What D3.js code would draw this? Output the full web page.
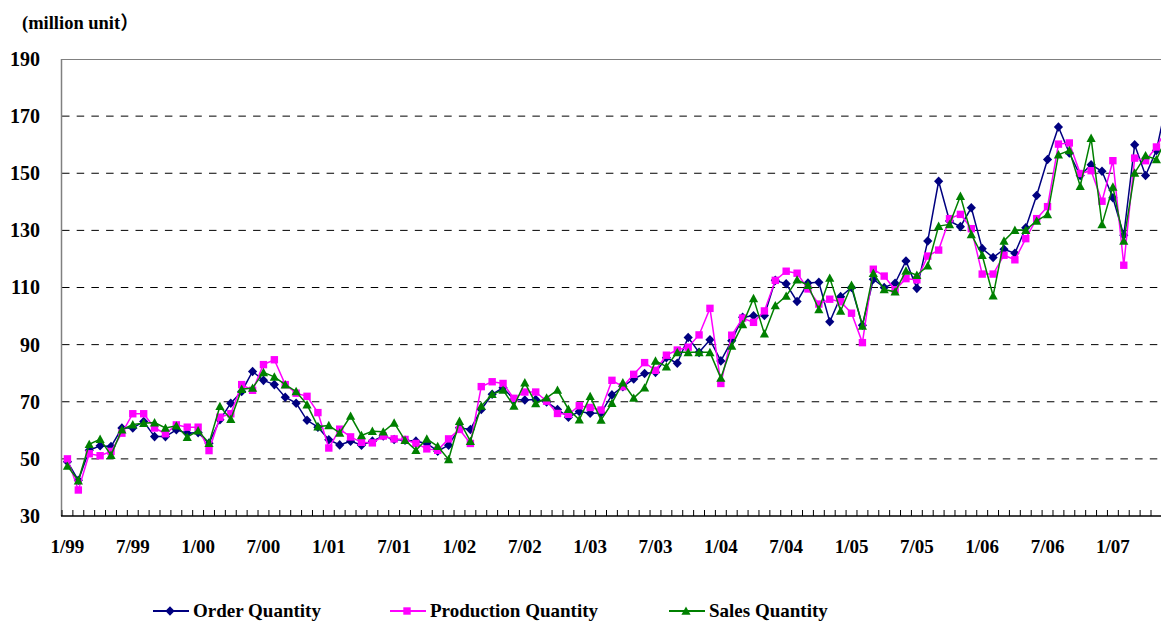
<!DOCTYPE html>
<html>
<head>
<meta charset="utf-8">
<script src="https://cdn.jsdelivr.net/npm/d3@7"></script>
<style>
  body { margin: 0; background: #fff; }
  text { font-family: "Liberation Serif", "Times New Roman", "Noto Sans CJK JP", serif; font-weight: bold; fill: #000; }
</style>
</head>
<body>
<div id="chart"></div>
<script>
// months from 1/99, one category per month
const startYear = 1999;
const monthCount = 102;
const months = d3.range(monthCount).map(i =>
  `${i % 12 + 1}/${String((startYear + Math.floor(i / 12)) % 100).padStart(2, "0")}`);

const tickLabels = ["1/99", "7/99", "1/00", "7/00", "1/01", "7/01", "1/02", "7/02", "1/03",
  "7/03", "1/04", "7/04", "1/05", "7/05", "1/06", "7/06", "1/07"];
const yTicks = [30, 50, 70, 90, 110, 130, 150, 170, 190];
const gridTicks = [50, 70, 90, 110, 130, 150, 170];

const orderQty = [
  49, 42.5, 53, 54.6, 54.3, 60.8, 60.8, 63.1, 57.8, 57.8, 60.2, 59,
  59.2, 55.5, 63.7, 69.5, 73.6, 80.6, 77.5, 76, 71.6, 69.5, 63.5, 61.1,
  56.7, 54.9, 56.2, 54.8, 56.2, 58, 56.8, 56.5, 56.2, 55.4, 52.7, 54.8,
  60.9, 60.3, 67.3, 72.6, 74.9, 70.8, 70.6, 70.8, 69.9, 67.3, 64.6, 66.6,
  66, 66.1, 72.4, 75.3, 78, 79.9, 80.3, 85.4, 83.5, 92.5, 87.3, 91.7,
  84.3, 91.4, 99.6, 100.1, 100.2, 112.5, 111.3, 105.1, 111.6, 111.8, 98, 106.8,
  110, 96.8, 112.9, 110, 111.5, 119.3, 109.7, 126.3, 147.2, 133.3, 131.3, 137.9,
  123.6, 120.5, 123.4, 122, 130.9, 142.2, 154.8, 166.2, 157.1, 149.2, 153, 150.7,
  141.4, 128.3, 160, 149.2, 158, 176
];
const productionQty = [
  50, 39.1, 51.8, 51.1, 52.6, 59, 65.8, 65.8, 60.8, 58.8, 61.9, 61.1,
  61.1, 52.9, 64.6, 65.8, 76, 74, 83, 84.7, 76, 73, 71.9, 66.2,
  53.8, 60.4, 57.7, 55.8, 55.6, 58, 57, 56.8, 55.4, 53.5, 53, 57,
  60.3, 55.4, 75.3, 77, 76.4, 71.2, 73.4, 73.4, 70.2, 65.9, 65.6, 68.6,
  68, 67.1, 77.5, 75.3, 79.6, 83.7, 81, 86.3, 88.1, 89.1, 93.4, 102.7,
  76.4, 93.3, 99.3, 97.8, 101.8, 112.5, 115.7, 115, 109.5, 104.2, 105.9, 105,
  101, 90.7, 116.4, 114, 109.2, 113.1, 112.7, 121, 123.1, 134.1, 135.6, 130.6,
  114.7, 114.7, 121.3, 119.7, 127.1, 134.1, 138.3, 160.2, 160.6, 149.9, 150.9, 140.2,
  154.4, 117.8, 155.3, 154.4, 159.2, 166
];
const salesQty = [
  47.5, 42.4, 55.1, 56.9, 51.3, 60.2, 62, 62.5, 62.7, 60.8, 61.6, 57.6,
  59.9, 55.5, 68.4, 63.9, 74.4, 74.8, 80.3, 78.7, 76, 73.6, 69, 61.3,
  61.7, 59.1, 65, 58.2, 59.7, 59.5, 62.6, 56.5, 53, 57, 54.4, 49.8,
  63.2, 56.2, 68.5, 72.6, 74.1, 68.5, 76.7, 69.4, 71.4, 74.1, 67.4, 63.7,
  71.9, 63.6, 69.5, 76.7, 71.3, 74.9, 84.3, 82.3, 87.3, 87.3, 87.3, 87.3,
  78.3, 89.5, 97.1, 106.2, 93.8, 103.7, 107, 112.7, 110.8, 102.3, 113.3, 101.8,
  110.8, 96.5, 115, 109.3, 108.5, 115.8, 114.3, 117.6, 131.5, 132.1, 142, 128.6,
  121.3, 107.1, 126.3, 130.1, 130.1, 133.3, 135.6, 156.5, 158, 145.5, 162.3, 132.1,
  145.2, 126.3, 150.1, 156.2, 154.8, 163
];

const series = [
  { name: "Order Quantity", values: orderQty, color: "#000080", marker: "diamond", legendX: 153 },
  { name: "Production Quantity", values: productionQty, color: "#FF00FF", marker: "square", legendX: 390 },
  { name: "Sales Quantity", values: salesQty, color: "#008000", marker: "triangle", legendX: 669 }
];

const width = 1161;
const height = 621;
const plot = { left: 62, top: 59, bottom: 516, step: 10.89 };

const svg = d3.select("#chart")
  .append("svg")
  .attr("width", width)
  .attr("height", height);

const x = d3.scaleBand()
  .domain(months)
  .range([plot.left, plot.left + months.length * plot.step]);

const y = d3.scaleLinear()
  .domain([30, 190])
  .range([plot.bottom, plot.top]);

const cx = m => x(m) + x.bandwidth() / 2;

function markerPath(type) {
  if (type === "diamond") return "M0,-4.8L4.6,0L0,4.8L-4.6,0Z";
  if (type === "square") return "M-3.7,-3.7H3.7V3.7H-3.7Z";
  return "M0,-4.6L4.6,3.8H-4.6Z";
}

// dashed gridlines
svg.append("g")
  .selectAll("line")
  .data(gridTicks)
  .join("line")
  .attr("x1", plot.left)
  .attr("x2", width)
  .attr("y1", d => y(d))
  .attr("y2", d => y(d))
  .attr("stroke", "#000")
  .attr("stroke-width", 1)
  .attr("stroke-dasharray", "7.5,7.2");

// top border and left axis
svg.append("line")
  .attr("x1", plot.left).attr("x2", width)
  .attr("y1", y(190) + 0.5).attr("y2", y(190) + 0.5)
  .attr("stroke", "#808080");
svg.append("line")
  .attr("x1", plot.left - 0.5).attr("x2", plot.left - 0.5)
  .attr("y1", y(190)).attr("y2", y(30))
  .attr("stroke", "#808080")
  .attr("stroke-width", 1.5);

// y axis labels
svg.append("g")
  .attr("transform", `translate(${plot.left},0)`)
  .call(d3.axisLeft(y).tickValues(yTicks).tickSize(0).tickPadding(22))
  .call(g => g.select(".domain").remove())
  .selectAll("text")
  .attr("font-size", "20px")
  .attr("font-family", "Liberation Serif, serif")
  .attr("font-weight", "bold")
  .attr("fill", "#000");

// x axis: line, inward ticks at each month boundary, labels every 6 months
svg.append("line")
  .attr("x1", plot.left - 1).attr("x2", width)
  .attr("y1", plot.bottom).attr("y2", plot.bottom)
  .attr("stroke", "#000")
  .attr("stroke-width", 1.5);

svg.append("g")
  .selectAll("line")
  .data(months)
  .join("line")
  .attr("x1", d => x(d))
  .attr("x2", d => x(d))
  .attr("y1", plot.bottom)
  .attr("y2", plot.bottom - 6)
  .attr("stroke", "#000");

svg.append("g")
  .attr("transform", `translate(0,${plot.bottom})`)
  .call(d3.axisBottom(x).tickValues(tickLabels).tickSize(0).tickPadding(24))
  .call(g => g.select(".domain").remove())
  .selectAll("text")
  .attr("font-size", "19px")
  .attr("font-family", "Liberation Serif, serif")
  .attr("font-weight", "bold")
  .attr("fill", "#000");

// title
svg.append("text")
  .attr("x", 22)
  .attr("y", 29)
  .attr("font-size", "18.5px")
  .text("(million unit）");

// series
const line = d3.line()
  .x((d, i) => cx(months[i]))
  .y(d => y(d));

series.forEach(s => {
  const g = svg.append("g");
  g.append("path")
    .datum(s.values)
    .attr("d", line)
    .attr("fill", "none")
    .attr("stroke", s.color)
    .attr("stroke-width", 1.5);
  g.selectAll("path.mark")
    .data(s.values)
    .join("path")
    .attr("class", "mark")
    .attr("d", markerPath(s.marker))
    .attr("transform", (d, i) => `translate(${cx(months[i])},${y(d)})`)
    .attr("fill", s.color);
});

// legend
const legendY = 611;
const legend = svg.append("g")
  .selectAll("g")
  .data(series)
  .join("g")
  .attr("transform", d => `translate(${d.legendX},${legendY})`);

legend.append("line")
  .attr("x1", 0).attr("x2", 36)
  .attr("y1", 0).attr("y2", 0)
  .attr("stroke", d => d.color)
  .attr("stroke-width", 2);
legend.append("path")
  .attr("d", d => markerPath(d.marker))
  .attr("transform", "translate(17,0)")
  .attr("fill", d => d.color);
legend.append("text")
  .attr("x", 40)
  .attr("y", 6)
  .attr("font-size", "19px")
  .text(d => d.name);
</script>
</body>
</html>
